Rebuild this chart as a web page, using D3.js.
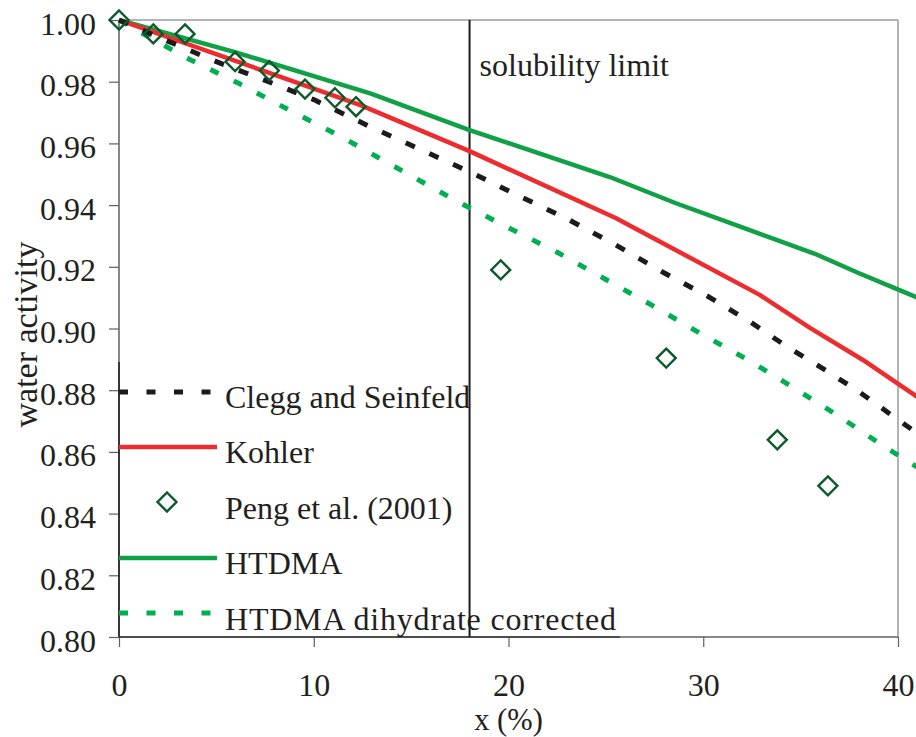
<!DOCTYPE html>
<html>
<head>
<meta charset="utf-8">
<script src="https://cdn.jsdelivr.net/npm/d3@7"></script>
<style>
  html, body { margin: 0; padding: 0; background: #fff; }
  svg { display: block; }
  text { font-family: "Liberation Serif", "Times New Roman", serif; fill: #231f20; }
</style>
</head>
<body>
<svg id="chart" width="916" height="737"></svg>
<script>
// ---- data ----
const xTicks = [0, 10, 20, 30, 40];
const yTicks = [0.80, 0.82, 0.84, 0.86, 0.88, 0.90, 0.92, 0.94, 0.96, 0.98, 1.00];
const solubilityLimit = 18;

const cleggX = [0, 2, 5, 8, 10, 12.8, 15, 18, 20.4, 22.9, 25.5, 28, 30.3, 32.4, 34.3, 36.3, 38, 39.9, 41];
const cleggY = [1.0, 0.9945, 0.9865, 0.9792, 0.9742, 0.9657, 0.9594, 0.9508, 0.9434, 0.9359, 0.9271, 0.918, 0.9102, 0.9022, 0.8941, 0.8864, 0.8795, 0.8709, 0.866];

const kohlerX = [0, 7.2, 12.4, 18, 25.5, 32.9, 35.5, 38.2, 41];
const kohlerY = [1.0, 0.9840, 0.9724, 0.9575, 0.9358, 0.9109, 0.9001, 0.8898, 0.8778];

const pengX = [0, 1.76, 3.39, 5.96, 7.72, 9.55, 11.09, 12.17, 19.6, 28.1, 33.8, 36.4];
const pengY = [1.0, 0.9955, 0.9955, 0.9865, 0.9836, 0.9776, 0.9748, 0.9719, 0.919, 0.8904, 0.8639, 0.8490];

const htdmaX = [0, 6, 12.9, 18, 25.2, 28.6, 32.6, 35.7, 38, 41];
const htdmaY = [1.0, 0.9895, 0.9762, 0.9643, 0.9491, 0.9406, 0.9314, 0.9243, 0.9179, 0.9100];

const dihydX = [0, 1.2, 3.6, 6.2, 8.8, 11.4, 14, 17.4, 19.9, 22.5, 25, 27.4, 29.8, 32.3, 34.7, 37, 39.3, 41];
const dihydY = [1.0, 0.9957, 0.9873, 0.9793, 0.9706, 0.9622, 0.9530, 0.9411, 0.933, 0.9247, 0.9159, 0.9074, 0.8986, 0.8898, 0.8806, 0.8714, 0.8617, 0.855];

const legendLabels = ["Clegg and Seinfeld", "Kohler", "Peng et al. (2001)", "HTDMA", "HTDMA dihydrate corrected"];

// ---- layout ----
const svg = d3.select("#chart");
const L = 119, R = 898, T = 20, B = 637;
const x = d3.scaleLinear().domain([0, 40]).range([L, R]);
const y = d3.scaleLinear().domain([0.80, 1.00]).range([B, T]);
const FONT = 32;

const C = {
  clegg: "#1d1a1b",
  kohler: "#ec2d2f",
  peng: "#0b5a2b",
  htdma: "#10a147",
  dihyd: "#00b050",
  axis: "#5f5f5f",
  frame: "#979aa2"
};

// frame (top and right)
svg.append("line").attr("x1", L).attr("x2", R).attr("y1", T).attr("y2", T)
  .attr("stroke", C.frame).attr("stroke-width", 1.5);
svg.append("line").attr("x1", R).attr("x2", R).attr("y1", T).attr("y2", B)
  .attr("stroke", C.frame).attr("stroke-width", 1.5);

// axes
const yAxis = d3.axisLeft(y).tickValues(yTicks).tickFormat(d3.format(".2f")).tickSize(10).tickPadding(0);
const gy = svg.append("g").attr("transform", `translate(${L},0)`).call(yAxis);
gy.select(".domain").remove();
gy.selectAll(".tick line").attr("stroke", C.axis).attr("stroke-width", 1.2);
gy.selectAll(".tick text").attr("font-size", FONT).attr("x", -23).attr("dy", 14)
  .attr("font-family", "Liberation Serif, serif").attr("fill", "#231f20");

const xAxis = d3.axisBottom(x).tickValues(xTicks).tickFormat(d3.format("d")).tickSize(10).tickPadding(0);
const gx = svg.append("g").attr("transform", `translate(0,${B})`).call(xAxis);
gx.select(".domain").remove();
gx.selectAll(".tick line").attr("stroke", C.axis).attr("stroke-width", 1.2);
gx.selectAll(".tick text").attr("font-size", FONT).attr("y", 58.5).attr("dy", 0)
  .attr("font-family", "Liberation Serif, serif").attr("fill", "#231f20");

svg.append("line").attr("x1", L).attr("x2", L).attr("y1", T).attr("y2", B)
  .attr("stroke", C.axis).attr("stroke-width", 1.5);
svg.append("line").attr("x1", L).attr("x2", R).attr("y1", B).attr("y2", B)
  .attr("stroke", C.axis).attr("stroke-width", 1.5);
// legend box edges (darker)
svg.append("line").attr("x1", L).attr("x2", L).attr("y1", 362).attr("y2", B)
  .attr("stroke", "#1d1a1b").attr("stroke-width", 1.5);
svg.append("line").attr("x1", L).attr("x2", 620).attr("y1", B).attr("y2", B)
  .attr("stroke", "#3a3a3a").attr("stroke-width", 1.5);

// axis titles
svg.append("text").attr("x", (L + R) / 2).attr("y", 730).attr("text-anchor", "middle")
  .attr("font-size", 30.5).text("x (%)");
svg.append("text").attr("transform", `translate(37,${(T + B) / 2 + 6}) rotate(-90)`)
  .attr("text-anchor", "middle").attr("font-size", 34).text("water activity");

// solubility limit
svg.append("line").attr("x1", x(solubilityLimit)).attr("x2", x(solubilityLimit))
  .attr("y1", T).attr("y2", B).attr("stroke", "#1d1a1b").attr("stroke-width", 2);
svg.append("text").attr("x", x(solubilityLimit) + 10).attr("y", 76)
  .attr("font-size", FONT).text("solubility limit");

// series
const line = d3.line().x(d => x(d[0])).y(d => y(d[1]));
const zip = (a, b) => a.map((v, i) => [v, b[i]]);

const series = [
  { xs: htdmaX, ys: htdmaY, color: C.htdma, width: 4.5, dash: null },
  { xs: kohlerX, ys: kohlerY, color: C.kohler, width: 4.5, dash: null },
  { xs: dihydX, ys: dihydY, color: C.dihyd, width: 5, dash: "9,17" },
  { xs: cleggX, ys: cleggY, color: C.clegg, width: 5, dash: "10,16" }
];
series.forEach(s => {
  svg.append("path").datum(zip(s.xs, s.ys)).attr("d", line)
    .attr("fill", "none").attr("stroke", s.color).attr("stroke-width", s.width)
    .attr("stroke-dasharray", s.dash).attr("stroke-linejoin", "round");
});

// diamonds
const diamond = (cx, cy, r) => `M${cx},${cy - r}L${cx + r},${cy}L${cx},${cy + r}L${cx - r},${cy}Z`;
svg.append("g").selectAll("path").data(zip(pengX, pengY)).join("path")
  .attr("d", d => diamond(x(d[0]), y(d[1]), 9.5))
  .attr("fill", "none").attr("stroke", C.peng).attr("stroke-width", 2.4);

// legend
const legY = [392, 447, 502, 558, 613];
const legBase = [408, 463, 519, 574, 630];
const lg = svg.append("g");
lg.append("line").attr("x1", L).attr("x2", 215).attr("y1", legY[0]).attr("y2", legY[0])
  .attr("stroke", C.clegg).attr("stroke-width", 5).attr("stroke-dasharray", "9,18.5");
lg.append("line").attr("x1", L).attr("x2", 217).attr("y1", legY[1]).attr("y2", legY[1])
  .attr("stroke", C.kohler).attr("stroke-width", 4.5);
lg.append("path").attr("d", diamond(167, legY[2], 9.5))
  .attr("fill", "none").attr("stroke", C.peng).attr("stroke-width", 2.4);
lg.append("line").attr("x1", L).attr("x2", 217).attr("y1", legY[3]).attr("y2", legY[3])
  .attr("stroke", C.htdma).attr("stroke-width", 4.5);
lg.append("line").attr("x1", L).attr("x2", 215).attr("y1", legY[4]).attr("y2", legY[4])
  .attr("stroke", C.dihyd).attr("stroke-width", 5).attr("stroke-dasharray", "9,18.5");
lg.selectAll("text").data(legendLabels).join("text")
  .attr("x", 225).attr("y", (d, i) => legBase[i]).attr("font-size", FONT).text(d => d)
  .each(function(d, i) {
    if (i === 4) d3.select(this).attr("textLength", 391).attr("lengthAdjust", "spacing");
  });
</script>
</body>
</html>
